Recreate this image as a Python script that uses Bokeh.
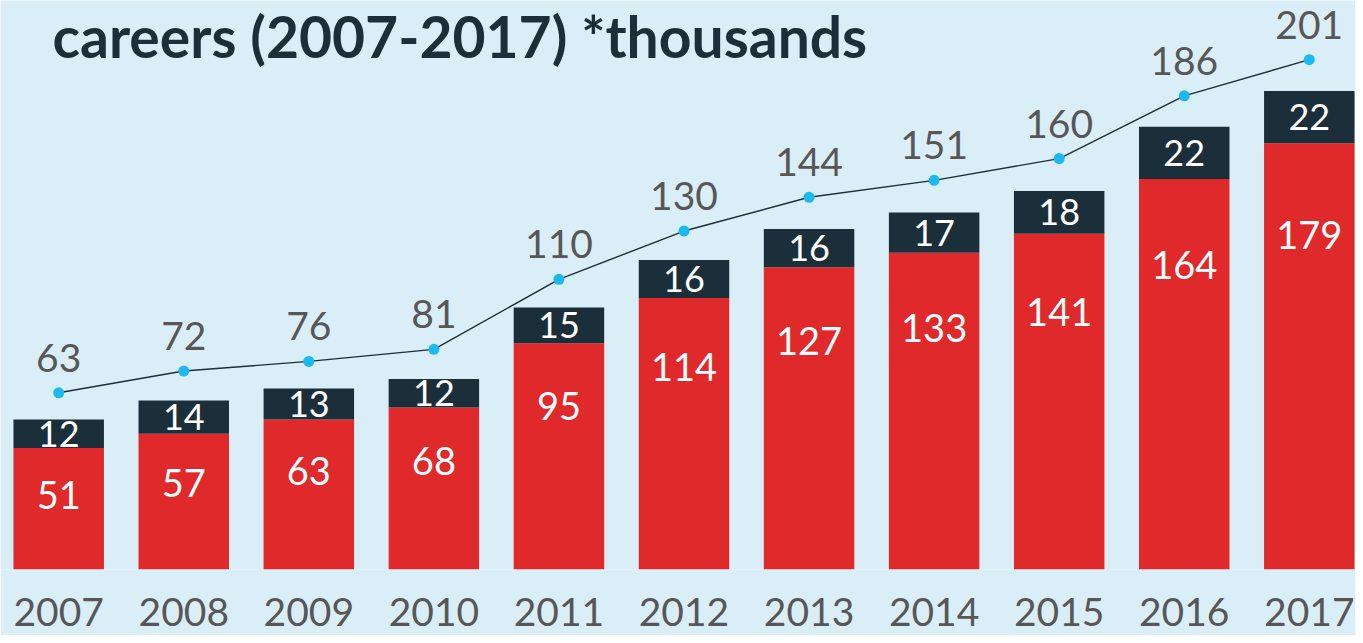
from bokeh.plotting import figure
from bokeh.models import Range1d, FixedTicker, ColumnDataSource, Label
from bokeh.embed import file_html
from bokeh.resources import INLINE
from bokeh.core.properties import value

# ---- data (thousands) ----
years = [2007, 2008, 2009, 2010, 2011, 2012, 2013, 2014, 2015, 2016, 2017]
red_values = [51, 57, 63, 68, 95, 114, 127, 133, 141, 164, 179]
dark_values = [12, 14, 13, 12, 15, 16, 16, 17, 18, 22, 22]
totals = [63, 72, 76, 81, 110, 130, 144, 151, 160, 186, 201]
title_text = "careers (2007-2017) *thousands"

# ---- styles ----
BG = "#daeef8"
RED = "#e0292b"
DARK = "#1b2f3a"
DOT = "#1bb9ee"
GREY = "#575757"
FONT = "Lato"

src = ColumnDataSource(dict(
    year=years,
    red=red_values,
    dark=dark_values,
    total=totals,
    red_lab=[str(v) for v in red_values],
    dark_lab=[str(v) for v in dark_values],
    total_lab=[str(v) for v in totals],
    dark_mid=[r + d / 2 for r, d in zip(red_values, dark_values)],
    red_pos=[r * 0.855 - 12.4 for r in red_values],
))

W, H, BOTTOM = 1355, 635, 66
p = figure(width=W, height=H, output_backend="svg", toolbar_location=None,
           x_range=Range1d(2006.5346, 2017.3694), y_range=Range1d(0, 239),
           y_axis_location=None, min_border=0, min_border_left=0, min_border_right=0,
           min_border_top=0, min_border_bottom=BOTTOM,
           background_fill_color=BG, border_fill_color=BG, outline_line_color=None)
p.extra_y_ranges = {"tot": Range1d(-10.2, 225.5)}
p.grid.visible = False

bw = 0.7235
p.vbar_stack(["red", "dark"], x="year", width=bw, color=[RED, DARK],
             line_color=None, source=src)

p.line(x="year", y="total", source=src, y_range_name="tot",
       line_color=DARK, line_width=1.4)
p.scatter(x="year", y="total", source=src, y_range_name="tot",
          size=11, fill_color=DOT, line_color=None)

p.text(x="year", y="total", text="total_lab", source=src, y_range_name="tot",
       text_align="center", text_baseline="alphabetic", y_offset=-35,
       text_font=value(FONT), text_font_size="39px", text_color=GREY)
p.text(x="year", y="dark_mid", text="dark_lab", source=src,
       text_align="center", text_baseline="middle",
       text_font=value(FONT), text_font_size="36px", text_color="white")
p.text(x="year", y="red_pos", text="red_lab", source=src,
       text_align="center", text_baseline="middle",
       text_font=value(FONT), text_font_size="38px", text_color="white")

ax = p.xaxis[0]
ax.ticker = FixedTicker(ticks=years)
ax.axis_line_color = None
ax.major_tick_line_color = None
ax.minor_tick_line_color = None
ax.major_label_standoff = 22
ax.major_label_text_font = FONT
ax.major_label_text_font_size = "39px"
ax.major_label_text_color = GREY

p.add_layout(Label(x=52, y=(H - BOTTOM) + 22 - 57, x_units="screen", y_units="screen",
                   text=title_text, text_font=FONT, text_font_style="bold",
                   text_font_size="57px", text_color=DARK,
                   text_baseline="alphabetic"))

open("out.html", "w").write(file_html(p, INLINE))
